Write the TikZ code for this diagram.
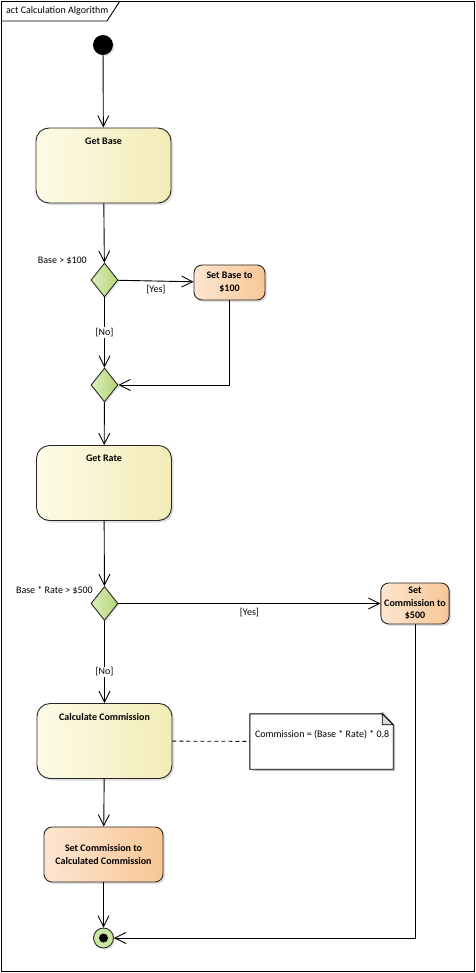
\documentclass[tikz,border=0pt]{standalone}
\usepackage{fontspec}
\setmainfont{Carlito}
\usetikzlibrary{shapes.geometric,shadows,arrows.meta,positioning}
\definecolor{actionL}{RGB}{253,251,232}
\definecolor{actionR}{RGB}{243,235,183}
\definecolor{setL}{RGB}{253,230,208}
\definecolor{setR}{RGB}{248,198,150}
\definecolor{decL}{RGB}{220,238,186}
\definecolor{decR}{RGB}{178,212,120}
\definecolor{endfill}{RGB}{200,230,160}
\tikzset{
  lbl/.style={font=\fontsize{10}{12}\selectfont, inner sep=1pt},
  guard/.style={lbl},
  boldlbl/.style={font=\fontsize{10}{12}\selectfont\bfseries, inner sep=1pt},
  action/.style={draw=black!85, line width=0.9pt, rounded corners=13pt,
    left color=actionL, right color=actionR,
    drop shadow={shadow xshift=2pt, shadow yshift=-2pt, opacity=.25},
    minimum width=135pt, minimum height=75pt},
  setter/.style={draw=black!85, line width=0.9pt, rounded corners=8pt,
    left color=setL, right color=setR, align=center,
    font=\fontsize{10}{13}\selectfont\bfseries,
    drop shadow={shadow xshift=2pt, shadow yshift=-2pt, opacity=.25}},
  decision/.style={diamond, draw=black!85, line width=0.9pt, inner sep=0pt,
    left color=decL, right color=decR, minimum width=27pt, minimum height=34pt,
    drop shadow={shadow xshift=1.5pt, shadow yshift=-1.5pt, opacity=.2}},
  flow/.style={line width=0.9pt, -{Straight Barb[length=11pt,width=11pt,line width=0.9pt]}},
}
\begin{document}
\begin{tikzpicture}[x=1pt,y=-1pt]
        \useasboundingbox (0,0) rectangle (475,973);
        % frame
        \draw[line width=0.9pt] (1,1) rectangle (474,971);
        \draw[line width=0.9pt] (1,21) -- (107,21) -- (120,1);
        \node[lbl, anchor=west, font=\fontsize{10}{12}\selectfont] (title) at (5,11) {act Calculation Algorithm};
        % nodes
        \node[circle, fill=black, minimum size=20pt, inner sep=0pt,
          drop shadow={shadow xshift=1.5pt, shadow yshift=-1.5pt, opacity=.2}] (start) at (103,45) {};
        \node[action, label={[boldlbl, anchor=north, yshift=-9pt]north:Get Base}] (getbase) at (103.5,165.5) {};
        \node[decision] (dec1) at (104.5,280) {};
        \node[guard, anchor=east] (cond1) at (88,261) {Base > \$100};
        \node[setter, minimum width=71pt, minimum height=35pt] (setbase) at (229.5,282.5) {Set Base to\\\$100};
        \node[decision] (merge1) at (104.5,385) {};
        \node[action, label={[boldlbl, anchor=north, yshift=-9pt]north:Get Rate}] (getrate) at (104,483) {};
        \node[decision] (dec2) at (104.5,603.5) {};
        \node[guard, anchor=east] (cond2) at (94,591) {Base * Rate > \$500};
        \node[setter, minimum width=68pt, minimum height=41pt, font=\fontsize{10}{12.5}\selectfont\bfseries] (setfixed) at (415,603.5) {Set\\Commission to\\\$500};
        \node[action, label={[boldlbl, anchor=north, yshift=-9pt]north:Calculate Commission}] (calc) at (104.5,741) {};
        \node[minimum width=143pt, minimum height=55pt, inner sep=0pt] (note) at (321.5,741.5) {};
        \node[setter, minimum width=119pt, minimum height=55pt] (setcalc) at (103.5,854.5) {Set Commission to\\Calculated Commission};
        \node[circle, draw=black!85, line width=0.9pt, fill=endfill, minimum size=20pt, inner sep=0pt,
          drop shadow={shadow xshift=1.5pt, shadow yshift=-1.5pt, opacity=.2}] (final) at (103.5,938) {};
        \fill (final.center) circle (4.5pt);
        % note outline
        \fill[black!25] ([xshift=2pt,yshift=-2pt]note.south west) -- ([xshift=2pt,yshift=-2pt]note.south east) -- ([xshift=2pt,yshift=-12pt]note.north east) -- ([xshift=-10pt,yshift=2pt]note.north east) -- cycle;
        \draw[line width=0.9pt, fill=white] (note.south west) -- (note.north west) -- ([xshift=-11pt]note.north east) -- ([yshift=-11pt]note.north east) -- (note.south east) -- cycle;
        \draw[line width=0.7pt, fill=black!15] ([xshift=-11pt]note.north east) -- ([xshift=-11pt,yshift=-11pt]note.north east) -- ([yshift=-11pt]note.north east) -- cycle;
        \node[lbl, anchor=west] (notetext) at ([xshift=4pt,yshift=7pt]note.west) {Commission = (Base * Rate) * 0.8};
        % flows
        \draw[flow] (start) -- (getbase);
        \draw[flow] (getbase) -- (dec1);
        \draw[flow] (dec1) -- node[guard, below=3pt] (yes1) {[Yes]} (setbase);
        \draw[flow] (dec1) -- node[guard, fill=white] (no1) {[No]} (merge1);
        \draw[flow] (setbase.south) |- (merge1.east);
        \draw[flow] (merge1) -- (getrate);
        \draw[flow] (getrate) -- (dec2);
        \draw[flow] (dec2) -- node[guard, below=3pt] (yes2) {[Yes]} (setfixed);
        \draw[flow] (dec2) -- node[guard, fill=white, pos=0.62] (no2) {[No]} (calc);
        \draw[line width=0.9pt, dash pattern=on 4pt off 3pt] (calc) -- (note);
        \draw[flow] (calc) -- (setcalc);
        \draw[flow] (setcalc) -- (final);
        \draw[flow] (setfixed.south) |- (final.east);
      \end{tikzpicture}
\end{document}
